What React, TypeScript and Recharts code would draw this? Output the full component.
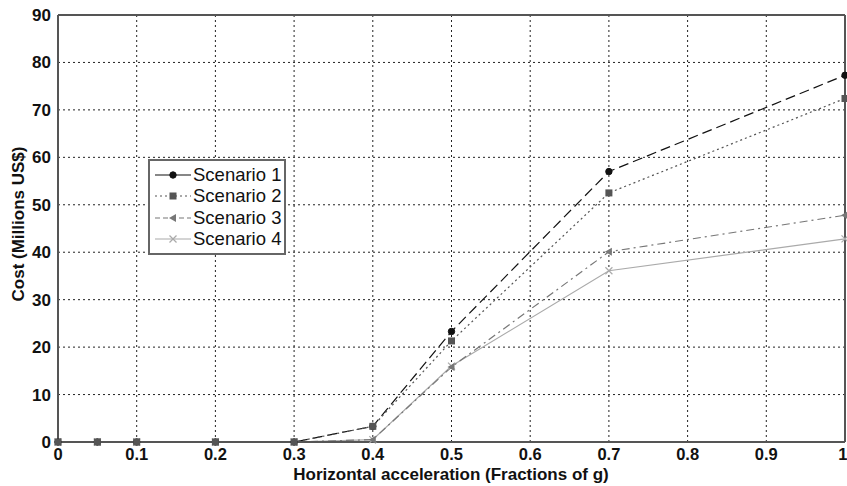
import React from 'react';
import {
  LineChart, Line, XAxis, YAxis, CartesianGrid, ReferenceLine
} from 'recharts';

// horizontal acceleration (fractions of g)
const accel = [0, 0.05, 0.1, 0.2, 0.3, 0.4, 0.5, 0.7, 1.0];
const scenario1 = [0, 0, 0, 0, 0, 3.3, 23.3, 57, 77.3];
const scenario2 = [0, 0, 0, 0, 0, 3.3, 21.3, 52.5, 72.4];
const scenario3 = [0, 0, 0, 0, 0, 0.5, 15.8, 40.1, 47.8];
const scenario4 = [0, 0, 0, 0, 0, 0.5, 16, 36.1, 42.8];

const xTicks = [0, 0.1, 0.2, 0.3, 0.4, 0.5, 0.6, 0.7, 0.8, 0.9, 1];
const yTicks = [0, 10, 20, 30, 40, 50, 60, 70, 80, 90];

const data = accel.map((x, i) => ({
  x,
  s1: scenario1[i],
  s2: scenario2[i],
  s3: scenario3[i],
  s4: scenario4[i],
}));

const FONT = 'Arimo, "Liberation Sans", Arial, sans-serif';

const series = [
  { key: 's1', name: 'Scenario 1', color: '#111', dash: '10 5', marker: 'circle' },
  { key: 's2', name: 'Scenario 2', color: '#555', dash: '2 3', marker: 'square' },
  { key: 's3', name: 'Scenario 3', color: '#777', dash: '8 4 2 4', marker: 'triangle' },
  { key: 's4', name: 'Scenario 4', color: '#aaa', dash: undefined, marker: 'cross' },
];

const Marker = ({ type, cx, cy, color }: { type: string; cx: number; cy: number; color: string }) => {
  if (type === 'circle') return <circle cx={cx} cy={cy} r={3.2} fill={color} stroke={color} />;
  if (type === 'square') return <rect x={cx - 3.5} y={cy - 3.5} width={7} height={7} fill={color} />;
  if (type === 'triangle')
    return <polygon points={`${cx - 4},${cy} ${cx + 3},${cy - 4} ${cx + 3},${cy + 4}`} fill={color} />;
  return (
    <g stroke={color} strokeWidth={1.2}>
      <line x1={cx - 3.5} y1={cy - 3.5} x2={cx + 3.5} y2={cy + 3.5} />
      <line x1={cx - 3.5} y1={cy + 3.5} x2={cx + 3.5} y2={cy - 3.5} />
    </g>
  );
};

const makeDot = (s: typeof series[number]) => (p: any) => (
  <Marker key={`${s.key}-${p.index}`} type={s.marker} cx={p.cx} cy={p.cy} color={s.color} />
);

const LegendBox = () => (
  <div
    style={{
      position: 'absolute',
      left: 148,
      top: 159,
      width: 134,
      border: '2px solid #666',
      background: '#fff',
      padding: '3px 0 3px 0',
      fontFamily: FONT,
      fontSize: 18.5,
      color: '#111',
    }}
  >
    {series.map((s) => (
      <div key={s.key} style={{ display: 'flex', alignItems: 'center', height: 21.5 }}>
        <svg width={40} height={12} style={{ marginLeft: 3, marginRight: 0 }}>
          <line x1={2} y1={6} x2={38} y2={6} stroke={s.color} strokeWidth={1.2}
            strokeDasharray={s.key === 's1' ? undefined : s.key === 's3' ? '5 3' : s.dash} />
          <Marker type={s.marker} cx={20} cy={6} color={s.color} />
        </svg>
        <span>{s.name}</span>
      </div>
    ))}
  </div>
);

const drawOrder = [series[3], series[2], series[0], series[1]];

export default function App() {
  return (
    <div style={{ position: 'absolute', left: 0, top: 0, width: 847, height: 486, background: '#fff' }}>
      <LineChart width={847} height={486} data={data} margin={{ top: 15, right: 2, left: 0, bottom: 0 }}>
        <CartesianGrid stroke="#222" strokeDasharray="2 3" strokeWidth={1} />
        <XAxis
          dataKey="x"
          type="number"
          domain={[0, 1]}
          ticks={xTicks}
          height={44}
          tickLine={false}
          axisLine={{ stroke: '#555', strokeWidth: 2 }}
          tick={{ fill: '#111', fontSize: 16.5, fontWeight: 'bold', fontFamily: FONT }}
          tickMargin={0}
          label={() => (
            <text x={451} y={480} textAnchor="middle" fill="#111"
              style={{ fontFamily: FONT, fontSize: 17, fontWeight: 'bold' }}>
              Horizontal acceleration (Fractions of g)
            </text>
          )}
        />
        <YAxis
          type="number"
          domain={[0, 90]}
          ticks={yTicks}
          width={58}
          tickLine={false}
          axisLine={{ stroke: '#555', strokeWidth: 2 }}
          tick={{ fill: '#111', fontSize: 17, fontWeight: 'bold', fontFamily: FONT }}
          tickMargin={1}
          label={() => (
            <text x={24} y={224} textAnchor="middle" fill="#111" transform="rotate(-90 24 224)"
              style={{ fontFamily: FONT, fontSize: 17, fontWeight: 'bold' }}>
              Cost (Millions US$)
            </text>
          )}
        />
        <ReferenceLine y={90} stroke="#555" strokeWidth={2} />
        <ReferenceLine x={1} stroke="#555" strokeWidth={2} />
        {drawOrder.map((s) => (
          <Line
            key={s.key}
            type="linear"
            dataKey={s.key}
            name={s.name}
            stroke={s.color}
            strokeWidth={1.2}
            strokeDasharray={s.dash}
            dot={makeDot(s)}
            activeDot={false}
            isAnimationActive={false}
          />
        ))}
      </LineChart>
      <LegendBox />
    </div>
  );
}
